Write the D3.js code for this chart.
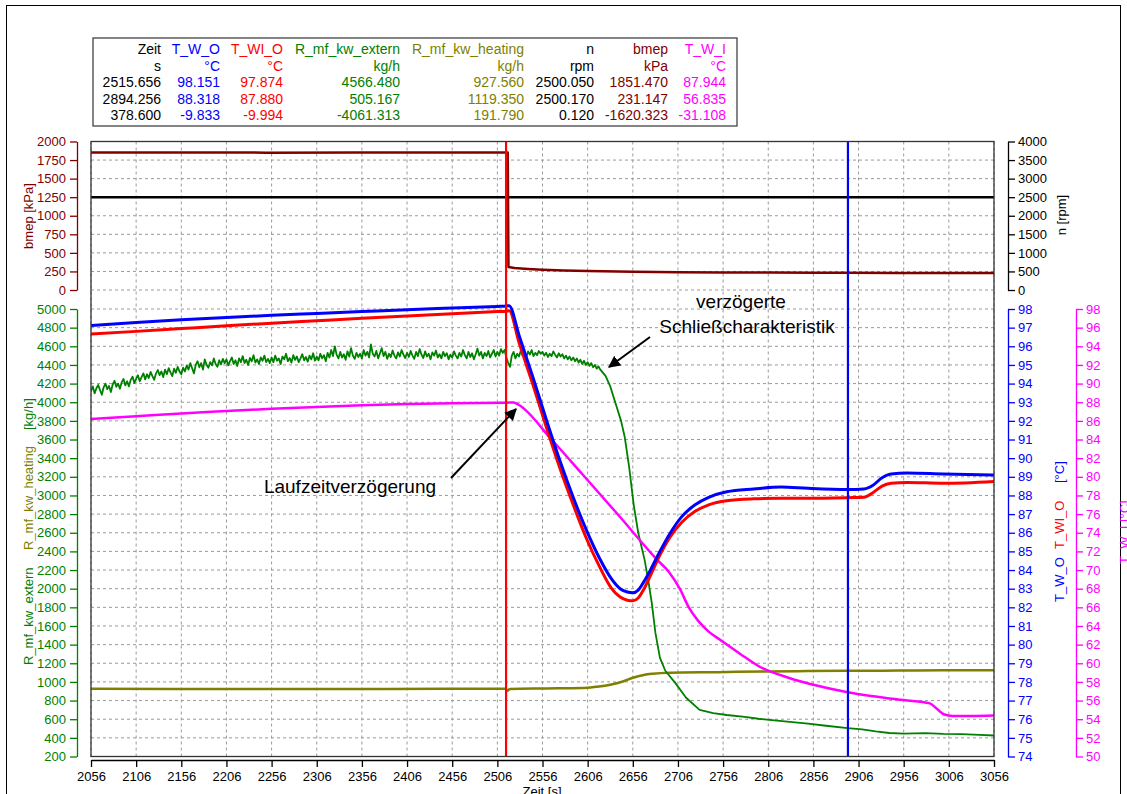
<!DOCTYPE html>
<html>
<head>
<meta charset="utf-8">
<script src="https://cdn.jsdelivr.net/npm/d3@7"></script>
<style>
  html, body { margin: 0; padding: 0; background: #fff; }
  svg { display: block; font-family: "Liberation Sans", Arial, sans-serif; }
</style>
</head>
<body>
<svg id="chart" width="1127" height="794"></svg>
<script>
// ---------------- DATA ----------------
const xTicks = [2056,2106,2156,2206,2256,2306,2356,2406,2456,2506,2556,2606,2656,2706,2756,2806,2856,2906,2956,3006,3056];
const bmepTicks = [0,250,500,750,1000,1250,1500,1750,2000];
const nTicks = [0,500,1000,1500,2000,2500,3000,3500,4000];
const massTicks = [200,400,600,800,1000,1200,1400,1600,1800,2000,2200,2400,2600,2800,3000,3200,3400,3600,3800,4000,4200,4400,4600,4800,5000];
const twoTicks = [74,75,76,77,78,79,80,81,82,83,84,85,86,87,88,89,90,91,92,93,94,95,96,97,98];
const twiTicks = [50,52,54,56,58,60,62,64,66,68,70,72,74,76,78,80,82,84,86,88,90,92,94,96,98];

const cursorTimes = [2515.656, 2894.256];

// table
const tableHeaders = ["Zeit","T_W_O","T_WI_O","R_mf_kw_extern","R_mf_kw_heating","n","bmep","T_W_I"];
const tableUnits   = ["s","°C","°C","kg/h","kg/h","rpm","kPa","°C"];
const tableRow1 = ["2515.656","98.151","97.874","4566.480","927.560","2500.050","1851.470","87.944"];
const tableRow2 = ["2894.256","88.318","87.880","505.167","1119.350","2500.170","231.147","56.835"];
const tableRow3 = ["378.600","-9.833","-9.994","-4061.313","191.790","0.120","-1620.323","-31.108"];

// series: [time s, value]
const bmepData = [[2056,1851],[2150,1852],[2250,1850],[2350,1852],[2450,1851],[2515,1851.5],[2517.5,1851],[2518.3,310],[2525,295],[2540,282],[2556,272],[2580,262],[2606,255],[2656,246],[2706,240],[2756,237],[2806,235],[2856,232],[2894,231],[2950,229],[3000,228],[3056,228]];
const nData = [[2056,2500],[2517,2500],[2518,2490],[2519,2500],[3056,2500]];

const twoData = [[2056,97.12],[2106,97.28],[2156,97.42],[2206,97.55],[2256,97.66],[2306,97.76],[2356,97.86],[2406,97.96],[2456,98.05],[2506,98.14],[2516,98.16],[2519,98.18],[2530,96.6],[2545,94.4],[2560,92.1],[2575,89.9],[2590,87.9],[2605,86.1],[2620,84.55],[2632,83.55],[2642,83.0],[2650,82.82],[2656,82.78],[2662,82.92],[2668,83.35],[2675,83.95],[2686,85.0],[2697,85.95],[2710,86.85],[2725,87.5],[2740,87.9],[2760,88.2],[2790,88.35],[2820,88.45],[2850,88.38],[2894,88.32],[2912,88.35],[2922,88.55],[2932,88.95],[2942,89.15],[2960,89.2],[3000,89.15],[3056,89.1]];
const twioData = [[2056,96.66],[2106,96.8],[2156,96.95],[2206,97.1],[2256,97.24],[2306,97.37],[2356,97.5],[2406,97.62],[2456,97.74],[2506,97.86],[2516,97.88],[2519,97.9],[2530,96.2],[2545,94.0],[2560,91.7],[2575,89.5],[2590,87.5],[2605,85.65],[2620,84.1],[2632,83.05],[2642,82.55],[2650,82.38],[2656,82.35],[2662,82.5],[2668,82.95],[2675,83.65],[2686,84.8],[2697,85.75],[2710,86.55],[2725,87.15],[2740,87.5],[2760,87.72],[2790,87.82],[2820,87.85],[2850,87.85],[2894,87.88],[2912,87.9],[2922,88.15],[2932,88.5],[2942,88.65],[2960,88.7],[3000,88.65],[3056,88.75]];
const twiData = [[2056,86.2],[2106,86.5],[2156,86.8],[2206,87.05],[2256,87.3],[2306,87.5],[2356,87.67],[2406,87.8],[2456,87.9],[2515,87.94],[2524,87.98],[2530,87.7],[2566,84.0],[2600,80.3],[2640,75.9],[2683,71.1],[2696,69.8],[2708,68.0],[2718,66.0],[2728,64.6],[2740,63.4],[2753,62.5],[2775,61.0],[2797,59.6],[2830,58.4],[2856,57.7],[2894,56.9],[2920,56.5],[2956,56.05],[2985,55.7],[2993,55.1],[3001,54.5],[3010,54.35],[3030,54.35],[3056,54.4]];

// R_mf_kw_extern: sampled every 2 s from 2056 to 2620, then the closing phase
const externStart = 2056;
const externStep = 2;
const externSamples = [
  4120,4170,4095,4150,4185,4130,4080,4160,4200,4140,4175,4110,4190,4230,4165,4200,4145,4215,4250,4180,4225,4170,4240,4275,4205,
  4250,4290,4225,4270,4310,4245,4300,4260,4325,4280,4240,4310,4345,4290,4330,4270,4350,4300,4365,4320,4280,4360,4315,4380,4330,
  4300,4370,4330,4395,4350,4420,4365,4310,4400,4440,4375,4420,4350,4460,4400,4370,4430,4395,4470,4410,4380,4450,4405,4465,4420,
  4460,4395,4440,4480,4410,4450,4390,4470,4430,4495,4420,4455,4400,4475,4440,4505,4425,4460,4410,4480,4445,4500,4430,4465,4420,
  4480,4430,4500,4445,4470,4410,4490,4460,4520,4440,4475,4425,4505,4455,4490,4430,4470,4515,4450,4485,4435,4500,4460,4525,4445,
  4490,4450,4520,4470,4505,4440,4530,4480,4560,4495,4600,4510,4470,4540,4480,4515,4455,4545,4490,4580,4500,4465,4530,4485,4520,
  4470,4560,4500,4540,4480,4620,4520,4490,4550,4470,4525,4580,4495,4540,4465,4520,4485,4555,4500,4470,4535,4490,4560,4510,4475,
  4530,4485,4550,4500,4465,4540,4495,4570,4510,4475,4545,4490,4520,4460,4535,4500,4555,4480,4515,4470,4540,4495,4525,4460,4510,
  4480,4545,4500,4470,4530,4490,4560,4505,4470,4540,4485,4525,4460,4515,4575,4500,4540,4470,4530,4495,4550,4480,4520,4560,4490,
  4540,4500,4570,4530,4560,4480,4420,4380,4500,4540,4470,4520,4490,4555,4500,4535,4480,4545,4510,4560,4495,4530,4505,4550,4520,
  4540,4500,4530,4485,4520,4495,4545,4510,4480,4525,4490,4515,4470,4500,4460,4490,4450,4480,4440,4470,4425,4455,4410,4445,4400,
  4430,4390,4420,4375,4400,4360,4385,4350
];
const externTail = [[2626,4280],[2631,4170],[2638,3955],[2643,3800],[2647,3630],[2652,3300],[2657,2900],[2662,2600],[2669,2312],[2673,2098],[2677,1847],[2681,1528],[2686,1260],[2692,1120],[2703,990],[2715,830],[2730,700],[2745,665],[2760,645],[2780,625],[2795,605],[2810,590],[2830,572],[2850,552],[2870,530],[2894,505],[2910,492],[2925,470],[2940,452],[2956,445],[2980,450],[3000,442],[3020,440],[3040,432],[3056,425]];

const heatingData = [[2056,927],[2150,925],[2250,924],[2350,925],[2450,926],[2515,927],[2517,905],[2520,925],[2560,930],[2600,935],[2615,948],[2631,970],[2645,1005],[2656,1045],[2668,1075],[2678,1088],[2697,1099],[2750,1105],[2800,1112],[2850,1116],[2894,1119],[2950,1122],[3000,1125],[3056,1126]];

// ---------------- LAYOUT ----------------
const svg = d3.select("#chart");
const X0 = 91, X1 = 994;
const TOP0 = 141.5, TOP1 = 290;     // upper panel
const BOT0 = 309, BOT1 = 756.5;     // lower panel
const C = { blue:"#0000ff", red:"#ff0000", green:"#008000", olive:"#808000", dred:"#800000", mag:"#ff00ff", grid:"#9a9a9a" };

const x = d3.scaleLinear().domain([2056,3056]).range([X0,X1]);
const yBmep = d3.scaleLinear().domain([0,2000]).range([TOP1,TOP0]);
const yN = d3.scaleLinear().domain([0,4000]).range([TOP1,TOP0]);
const yMass = d3.scaleLinear().domain([200,5000]).range([BOT1,BOT0]);
const yTwo = d3.scaleLinear().domain([74,98]).range([BOT1,BOT0]);
const yTwi = d3.scaleLinear().domain([50,98]).range([BOT1,BOT0]);

// outer border
svg.append("rect").attr("x",6.5).attr("y",5.5).attr("width",1114).attr("height",900)
  .attr("fill","none").attr("stroke","#000").attr("stroke-width",1);

// grid
const grid = svg.append("g").attr("stroke",C.grid).attr("stroke-width",1).attr("stroke-dasharray","3,3");
xTicks.forEach(t => grid.append("line").attr("x1",x(t)).attr("x2",x(t)).attr("y1",TOP0).attr("y2",BOT1));
bmepTicks.forEach(t => grid.append("line").attr("x1",X0).attr("x2",X1).attr("y1",yBmep(t)).attr("y2",yBmep(t)));
massTicks.forEach(t => grid.append("line").attr("x1",X0).attr("x2",X1).attr("y1",yMass(t)).attr("y2",yMass(t)));

// clip
svg.append("clipPath").attr("id","clip").append("rect")
  .attr("x",X0).attr("y",TOP0-1).attr("width",X1-X0).attr("height",BOT1-TOP0+2);
const plot = svg.append("g").attr("clip-path","url(#clip)");

function drawLine(data, ys, color, w, curve){
  plot.append("path").datum(data)
    .attr("fill","none").attr("stroke",color).attr("stroke-width",w)
    .attr("stroke-linejoin","round").attr("stroke-linecap","round")
    .attr("d", d3.line().curve(curve || d3.curveLinear).x(d=>x(d[0])).y(d=>ys(d[1])));
}
const externData = externSamples.map((v,i)=>[externStart + i*externStep, v]).concat(externTail);

drawLine(nData, yN, "#000", 2.5);
drawLine(bmepData, yBmep, C.dred, 2.5);
drawLine(heatingData, yMass, C.olive, 2.5, d3.curveMonotoneX);
drawLine(externData, yMass, C.green, 1.8);
drawLine(twiData, yTwi, C.mag, 2.5, d3.curveMonotoneX);
drawLine(twioData, yTwo, C.red, 3, d3.curveMonotoneX);
drawLine(twoData, yTwo, C.blue, 3, d3.curveMonotoneX);

// cursors
[[cursorTimes[0], C.red],[cursorTimes[1], C.blue]].forEach(([t,c]) => {
  svg.append("line").attr("x1",x(t)).attr("x2",x(t)).attr("y1",TOP0).attr("y2",BOT1)
    .attr("stroke",c).attr("stroke-width",2.2);
});

// frame
svg.append("rect").attr("x",X0).attr("y",TOP0).attr("width",X1-X0).attr("height",BOT1-TOP0)
  .attr("fill","none").attr("stroke","#333").attr("stroke-width",1.3);

// axes
function styleAxis(g, color){
  g.selectAll("path").attr("stroke",color).attr("stroke-width",1.3);
  g.selectAll("line").attr("stroke",color).attr("stroke-width",1.3);
  g.selectAll("text").attr("fill",color).style("font-size","13px").style("font-family","'Liberation Sans', Arial, sans-serif");
}
const gx = svg.append("g").attr("transform","translate(0,760)")
  .call(d3.axisBottom(x).tickValues(xTicks).tickSize(7).tickSizeOuter(0).tickPadding(5).tickFormat(d3.format("d")));
styleAxis(gx,"#000");

const gb = svg.append("g").attr("transform","translate(77,0)")
  .call(d3.axisLeft(yBmep).tickValues(bmepTicks).tickSize(7).tickSizeOuter(0).tickPadding(4).tickFormat(d3.format("d")));
styleAxis(gb,C.dred);
const gm = svg.append("g").attr("transform","translate(77,0)")
  .call(d3.axisLeft(yMass).tickValues(massTicks).tickSize(7).tickSizeOuter(0).tickPadding(4).tickFormat(d3.format("d")));
styleAxis(gm,C.green);
const gn = svg.append("g").attr("transform","translate(1008,0)")
  .call(d3.axisRight(yN).tickValues(nTicks).tickSize(7).tickSizeOuter(0).tickPadding(3).tickFormat(d3.format("d")));
styleAxis(gn,"#000");
const gt = svg.append("g").attr("transform","translate(1008,0)")
  .call(d3.axisRight(yTwo).tickValues(twoTicks).tickSize(7).tickSizeOuter(0).tickPadding(3).tickFormat(d3.format("d")));
styleAxis(gt,C.blue);
const gp = svg.append("g").attr("transform","translate(1076,0)")
  .call(d3.axisRight(yTwi).tickValues(twiTicks).tickSize(7).tickSizeOuter(0).tickPadding(3).tickFormat(d3.format("d")));
styleAxis(gp,C.mag);

// axis titles (rotated, reading bottom-to-top)
function vText(xc, yStart, txt, color, anchor){
  svg.append("text").attr("transform",`translate(${xc},${yStart}) rotate(-90)`)
    .attr("dy","0.35em").attr("text-anchor",anchor||"start")
    .attr("fill",color).style("font-size","13px").text(txt);
}
vText(28, 216, "bmep [kPa]", C.dred, "middle");
vText(28, 665, "R_mf_kw_extern", C.green);
vText(28, 550, "R_mf_kw_heating", C.olive);
vText(28, 430, "[kg/h]", C.green);
vText(1061, 215, "n [rpm]", "#000", "middle");
vText(1059, 602, "T_W_O", C.blue);
vText(1059, 549, "T_WI_O", C.red);
vText(1059, 483, "[°C]", C.blue);
vText(1124, 564, "T_W_I [°C]", C.mag);

svg.append("text").attr("x",542).attr("y",796).attr("text-anchor","middle")
  .style("font-size","13px").attr("fill","#000").text("Zeit [s]");

// table
svg.append("rect").attr("x",93).attr("y",38).attr("width",644).attr("height",88)
  .attr("fill","#fff").attr("stroke","#444").attr("stroke-width",1.3);
const colRight = [161,220,283,400,524,594,668,726];
const colColor = ["#000",C.blue,C.red,C.green,C.olive,"#000",C.dred,C.mag];
const rows = [tableHeaders, tableUnits, tableRow1, tableRow2, tableRow3];
const rowBase = [54,71,87,104,120];
rows.forEach((r,ri) => r.forEach((s,ci) => {
  svg.append("text").attr("x",colRight[ci]).attr("y",rowBase[ri]).attr("text-anchor","end")
    .attr("fill",colColor[ci]).style("font-size","14px").text(s);
}));

// annotations
const defs = svg.append("defs");
defs.append("marker").attr("id","arr").attr("viewBox","0 0 10 10").attr("refX",9).attr("refY",5)
  .attr("markerWidth",6).attr("markerHeight",6).attr("orient","auto").attr("markerUnits","strokeWidth")
  .append("path").attr("d","M0,0 L10,5 L0,10 z").attr("fill","#000");
svg.append("line").attr("x1",650).attr("y1",337).attr("x2",609).attr("y2",367)
  .attr("stroke","#000").attr("stroke-width",2).attr("marker-end","url(#arr)");
svg.append("line").attr("x1",451).attr("y1",478).attr("x2",516).attr("y2",409)
  .attr("stroke","#000").attr("stroke-width",2).attr("marker-end","url(#arr)");
svg.append("text").attr("x",741).attr("y",308).attr("text-anchor","middle").style("font-size","19px").text("verzögerte");
svg.append("text").attr("x",747).attr("y",333).attr("text-anchor","middle").style("font-size","19px").text("Schließcharakteristik");
svg.append("text").attr("x",350).attr("y",493).attr("text-anchor","middle").style("font-size","19px").text("Laufzeitverzögerung");
</script>
</body>
</html>
